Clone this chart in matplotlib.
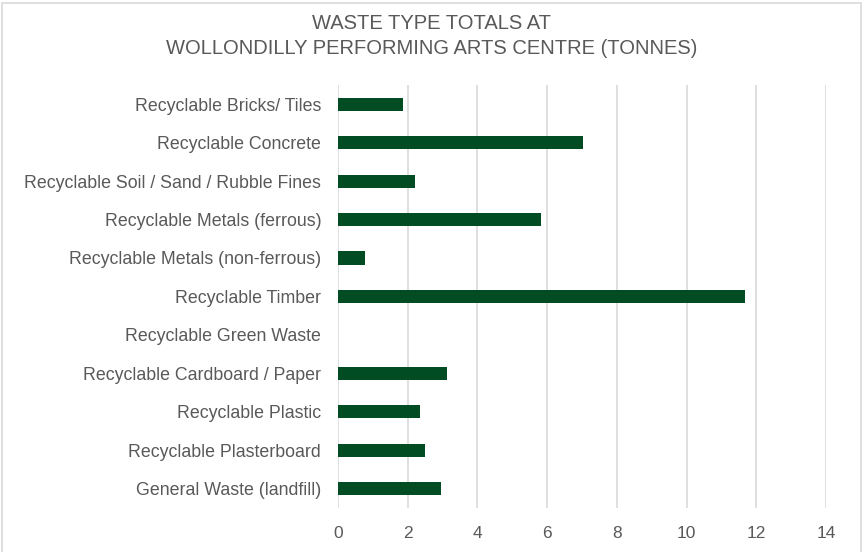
import matplotlib.pyplot as plt
from matplotlib.patches import Rectangle

categories = [
    'Recyclable Bricks/ Tiles',
    'Recyclable Concrete',
    'Recyclable Soil / Sand / Rubble Fines',
    'Recyclable Metals (ferrous)',
    'Recyclable Metals (non-ferrous)',
    'Recyclable Timber',
    'Recyclable Green Waste',
    'Recyclable Cardboard / Paper',
    'Recyclable Plastic',
    'Recyclable Plasterboard',
    'General Waste (landfill)',
]
tonnes = [1.88, 7.02, 2.2, 5.83, 0.78, 11.68, 0, 3.12, 2.35, 2.49, 2.96]
xticks = [0, 2, 4, 6, 8, 10, 12, 14]

plt.rcParams['font.family'] = ['Liberation Sans', 'DejaVu Sans']
txt = '#595959'

fig = plt.figure(figsize=(8.64, 5.52), dpi=100)
ax = fig.add_axes([0.391, 0.080, 0.565, 0.766])

y = list(range(len(categories)))
ax.barh(y, tonnes, height=0.34, color='#024C24', edgecolor='none', zorder=3)
ax.set_yticks(y)
ax.set_yticklabels(categories, fontsize=12.8, color=txt)
ax.set_ylim(len(categories) - 0.5, -0.5)
ax.set_xlim(0, 14)
ax.set_xticks(xticks)
ax.set_xticklabels([str(v) for v in xticks], fontsize=12.5, color=txt)
ax.tick_params(axis='y', length=0, pad=12)
ax.tick_params(axis='x', length=0, pad=13)
ax.grid(axis='x', color='#d9d9d9', linewidth=1.2, zorder=0)
for s in ax.spines.values():
    s.set_visible(False)

fig.text(0.5, 0.957, 'WASTE TYPE TOTALS AT', ha='center', va='center', fontsize=14.5, color=txt)
fig.text(0.5, 0.913, 'WOLLONDILLY PERFORMING ARTS CENTRE (TONNES)', ha='center', va='center',
         fontsize=14.5, color=txt)

fig.patches.append(Rectangle((0.002, -0.01), 0.995, 1.005, transform=fig.transFigure,
                             fill=False, edgecolor='#d9d9d9', linewidth=1.2))

plt.savefig('out.png', dpi=100)
